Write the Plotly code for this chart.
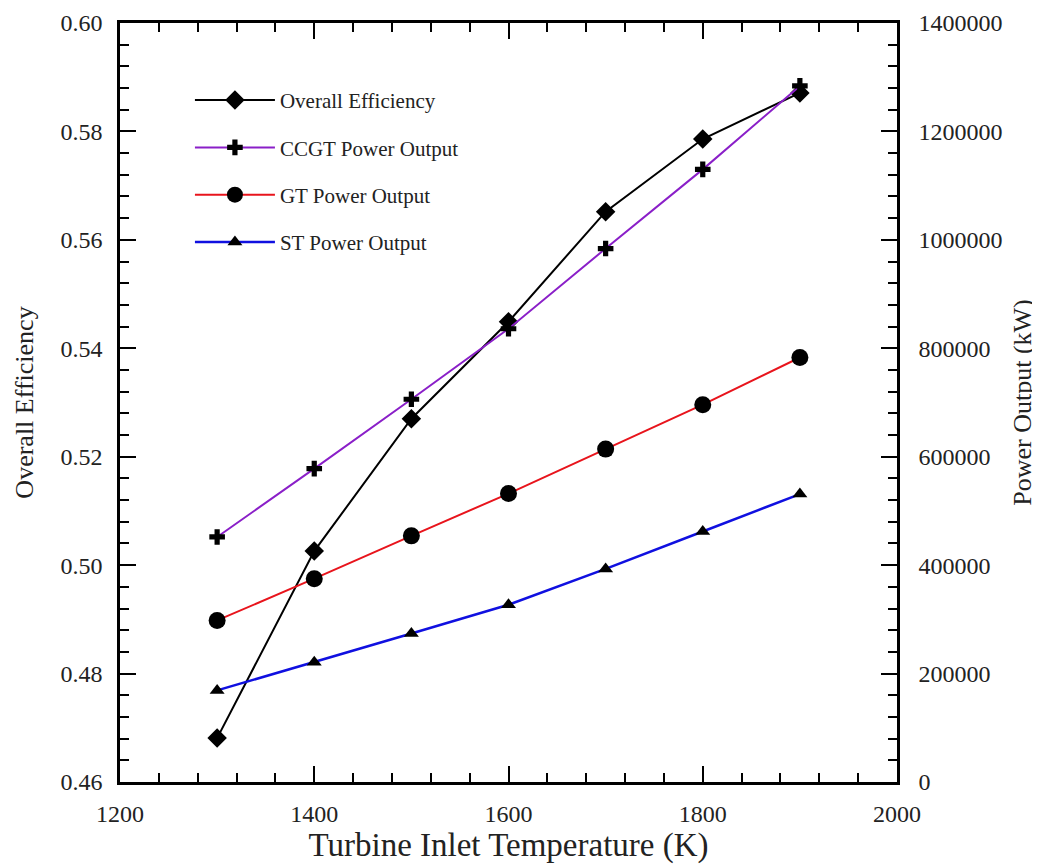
import plotly.graph_objects as go

temps = [1300, 1400, 1500, 1600, 1700, 1800, 1900]
overall_eff = [0.4681, 0.5026, 0.5270, 0.5449, 0.5652, 0.5786, 0.5871]
ccgt_power = [452000, 578000, 706000, 836000, 984000, 1130000, 1284000]
gt_power = [298000, 375000, 454000, 532000, 614000, 696000, 783000]
st_power = [169000, 221000, 274000, 327000, 393000, 462000, 531000]

FONT = "Liberation Serif"

fig = go.Figure()
fig.add_trace(go.Scatter(
    x=temps, y=overall_eff, name="Overall Efficiency", mode="lines+markers",
    line=dict(color="black", width=2),
    marker=dict(symbol="diamond", size=15, color="black"),
    legendgroup="a", yaxis="y"))
fig.add_trace(go.Scatter(
    x=temps, y=ccgt_power, name="CCGT Power Output", mode="lines+markers",
    line=dict(color="#8a1fc8", width=2),
    marker=dict(symbol="cross", size=13, color="black"),
    legendgroup="b", yaxis="y2"))
fig.add_trace(go.Scatter(
    x=temps, y=gt_power, name="GT Power Output", mode="lines+markers",
    line=dict(color="#e8141c", width=2),
    marker=dict(symbol="circle", size=17, color="black"),
    legendgroup="c", yaxis="y2"))
fig.add_trace(go.Scatter(
    x=temps, y=st_power, name="ST Power Output", mode="lines+markers",
    line=dict(color="#1010e0", width=2.5),
    marker=dict(symbol="triangle-up", size=13, color="black"),
    legendgroup="d", yaxis="y2"))

axis_common = dict(
    showline=True, linecolor="black", linewidth=2.5,
    ticks="inside", tickcolor="black", tickwidth=2, ticklen=16,
    showgrid=False, zeroline=False, automargin=False,
    ticklabeloverflow="allow",
    tickfont=dict(family=FONT, size=24, color="#222"),
)

fig.update_layout(
    width=1032, height=856,
    margin=dict(l=112, r=143, t=15, b=82),
    paper_bgcolor="white", plot_bgcolor="white",
    font=dict(family=FONT, color="#222"),
    showlegend=True,
    legend=dict(
        x=0.09, y=0.925, xanchor="left", yanchor="top",
        font=dict(family=FONT, size=21, color="#222"),
        tracegroupgap=17, itemwidth=80, bgcolor="rgba(255,255,255,0)",
    ),
    xaxis=dict(
        **axis_common, range=[1200, 2000], dtick=200, tick0=1200,
        mirror="ticks",
        minor=dict(dtick=40, ticks="inside", ticklen=9, tickwidth=2, tickcolor="black"),
        title=dict(text="Turbine Inlet Temperature (K)", font=dict(family=FONT, size=33, color="#222"), standoff=4),
        ticklabelstandoff=8,
    ),
    yaxis=dict(
        **axis_common, range=[0.46, 0.60], dtick=0.02, tick0=0.46, tickformat=".2f",
        minor=dict(dtick=0.004, ticks="inside", ticklen=9, tickwidth=2, tickcolor="black"),
        title=dict(text="Overall Efficiency", font=dict(family=FONT, size=26, color="#222"), standoff=20),
        ticklabelstandoff=10,
    ),
    yaxis2=dict(
        **axis_common, range=[0, 1400000], dtick=200000, tick0=0, tickformat="d",
        overlaying="y", side="right",
        minor=dict(dtick=40000, ticks="inside", ticklen=9, tickwidth=2, tickcolor="black"),
        title=dict(text="Power Output (kW)", font=dict(family=FONT, size=26, color="#222"), standoff=12),
        ticklabelstandoff=14,
    ),
)

fig.write_html("out.html")
